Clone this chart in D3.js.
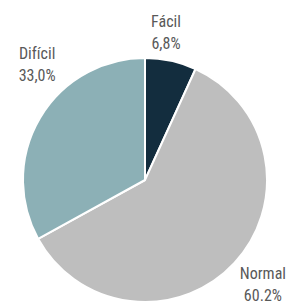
<!DOCTYPE html>
<html><head><meta charset="utf-8">
<script src="https://cdn.jsdelivr.net/npm/d3@7"></script>
<style>
html,body{margin:0;padding:0;background:#fff;}
svg{display:block;}
text{font-family:"Liberation Sans Narrow","Roboto Condensed","Arial Narrow",sans-serif;font-size:16px;fill:#595959;}
</style></head><body>
<svg id="c" width="294" height="304"></svg>
<script>
const categories = ["Fácil", "Normal", "Difícil"];
const values = [6.8, 60.2, 33.0];
const valueLabels = ["6,8%", "60.2%", "33,0%"];
const colors = ["#132d3e", "#bebebe", "#8cb0b6"];

const W = 294, H = 304, cx = 145, cy = 180, R = 122;
const svg = d3.select("#c");
const g = svg.append("g").attr("transform", `translate(${cx},${cy})`);

const data = categories.map((c, i) => ({cat: c, value: values[i], label: valueLabels[i], color: colors[i]}));
const pie = d3.pie().value(d => d.value).sort(null);
const arcs = pie(data);
const arc = d3.arc().innerRadius(0).outerRadius(R);

g.selectAll("path").data(arcs).join("path")
  .attr("d", arc)
  .attr("fill", d => d.data.color)
  .attr("stroke", "#fff")
  .attr("stroke-width", 2)
  .attr("stroke-linejoin", "round");

// label placement: polar direction (radians from 12 o'clock) and distance from centre
const labelPolar = {"Fácil": [0.147, 143.5], "Normal": [2.32, 161], "Difícil": [-0.776, 154]};
arcs.forEach(d => {
  const [a, r] = labelPolar[d.data.cat];
  const x = r * Math.sin(a), y = -r * Math.cos(a);
  const t = g.append("text").attr("text-anchor", "middle");
  t.append("tspan").attr("x", x).attr("y", y - 11).text(d.data.cat);
  t.append("tspan").attr("x", x).attr("y", y + 11).text(d.data.label);
});
</script>
</body></html>
